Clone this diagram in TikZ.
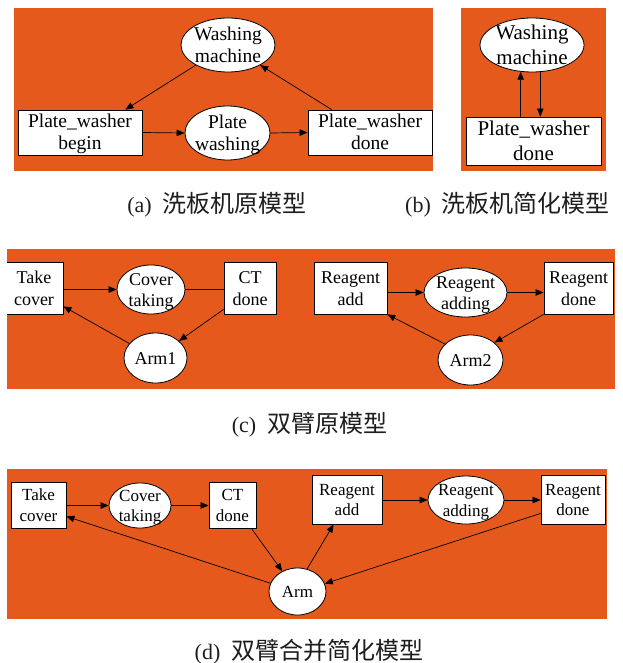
\documentclass[tikz,border=0pt]{standalone}
\usepackage{fontspec}
\setmainfont{Liberation Serif}
\newfontfamily\cjk{Noto Sans CJK SC}
\usetikzlibrary{shapes.geometric,arrows.meta}
\definecolor{bgorange}{RGB}{229,89,29}
\definecolor{captxt}{RGB}{30,30,30}
\newcommand{\tx}[1]{\makebox[0pt]{\smash{\raisebox{\dimexpr-0.25em-2pt\relax}{\begin{tabular}{@{}c@{}}#1\end{tabular}}}}}
\tikzset{
  boxn/.style={rectangle, draw=black, fill=white, line width=0.8pt, inner sep=0pt},
  elln/.style={ellipse, draw=black, fill=white, line width=0.8pt, inner sep=0pt},
  arr/.style={-{Triangle[length=8pt,width=6.5pt]}, line width=0.7pt, draw=black},
  plainline/.style={line width=0.7pt, draw=black},
  panel/.style={fill=bgorange, draw=none},
  fa/.style={font=\fontsize{19.5}{22}\selectfont},
  fb/.style={font=\fontsize{21}{25}\selectfont},
  fc/.style={font=\fontsize{18}{21.5}\selectfont},
  fd/.style={font=\fontsize{17}{20.5}\selectfont},
  captext/.style={font=\fontsize{22}{26}\selectfont, inner sep=0pt, anchor=base, text=captxt},
  sz/.style 2 args={minimum width=#1pt, minimum height=#2pt},
}
\newcommand{\cjkcap}[1]{{\cjk\fontsize{24}{26}\selectfont #1}}
\begin{document}
\begin{tikzpicture}[x=1pt,y=-1pt]
\fill[white] (0,0) rectangle (622,663);
\useasboundingbox (0,0) rectangle (622,663);

% ---------- panel (a)
\fill[panel] (14,8) rectangle (433,171);
\node[boxn, fa, sz={124}{45}] (pwb) at (80,132.5) {\tx{Plate\_washer\\begin}};
\node[elln, fa, sz={85}{54}] (pwg) at (227.5,133) {\tx{Plate\\washing}};
\node[boxn, fa, sz={124}{45}] (pwd) at (370,132.5) {\tx{Plate\_washer\\done}};
\node[elln, fa, sz={94}{54}] (wma) at (228,45) {\tx{Washing\\machine}};
\draw[arr] (wma.212) -- ([xshift=-17pt]pwb.north east);
\draw[arr] (pwb.east) -- (pwg.west);
\draw[arr] (pwg.east) -- (pwd.west);
\draw[arr] ([xshift=24pt]pwd.north west) -- (wma.328);

% ---------- panel (b)
\fill[panel] (461,8) rectangle (606,171);
\node[elln, fb, sz={104}{54}] (wmb) at (532,45) {\tx{Washing\\machine}};
\node[boxn, fb, sz={135}{48}] (pwdb) at (533.5,141) {\tx{Plate\_washer\\done}};
\draw[arr] (wmb.247 |- pwdb.north) -- (wmb.247);
\draw[arr] (wmb.287) -- (wmb.287 |- pwdb.north);

\node[captext] (capa) at (217,212.5) {(a)\hspace{0.5em}\cjkcap{洗板机原模型}};
\node[captext] (capb) at (507.5,212.5) {(b)\hspace{0.5em}\cjkcap{洗板机简化模型}};

% ---------- panel (c)
\fill[panel] (7,249) rectangle (615,389);
\begin{scope}
\clip (7,249) rectangle (615,389);
\node[boxn, fc, sz={58}{52}] (tc) at (34,288) {\tx{Take\\cover}};
\end{scope}
\node[elln, fc, sz={68}{49}] (ctk) at (151,289.5) {\tx{Cover\\taking}};
\node[boxn, fc, sz={52}{52}] (ctd) at (250,288) {\tx{CT\\done}};
\node[elln, fc, sz={63}{50}] (arm1) at (155.5,358) {\tx{Arm1}};
\node[boxn, fc, sz={73}{52}] (ra) at (350.5,288) {\tx{Reagent\\add}};
\node[elln, fc, sz={83}{49}] (rag) at (465.5,292.5) {\tx{Reagent\\adding}};
\node[boxn, fc, sz={69}{52}] (rd) at (578.5,288) {\tx{Reagent\\done}};
\node[elln, fc, sz={65}{50}] (arm2) at (470.5,360) {\tx{Arm2}};
\draw[arr] (tc.east |- ctk.center) -- (ctk.west);
\draw[plainline] (ctk.east) -- (ctk.east -| ctd.west);
\draw[arr] ([yshift=5pt]ctd.south west) -- (arm1.36);
\draw[arr] (arm1.151) -- ([yshift=8pt]tc.south east);
\draw[arr] (ra.east |- rag.center) -- (rag.west);
\draw[arr] (rag.east) -- (rag.east -| rd.west);
\draw[arr] (rd.south west) -- (arm2.36);
\draw[arr] (arm2.148) -- (ra.south east);

\node[captext] (capc) at (309.5,432.5) {(c)\hspace{0.5em}\cjkcap{双臂原模型}};

% ---------- panel (d)
\fill[panel] (7,469) rectangle (607,619);
\node[boxn, fd, sz={55}{46}] (tcd) at (38.5,505) {\tx{Take\\cover}};
\node[elln, fd, sz={62}{45}] (ctkd) at (140,505.5) {\tx{Cover\\taking}};
\node[boxn, fd, sz={47}{46}] (ctdd) at (232.5,505) {\tx{CT\\done}};
\node[elln, fd, sz={57}{47}] (arm) at (297.5,591.5) {\tx{Arm}};
\node[boxn, fd, sz={70}{49}] (rad) at (347,499.5) {\tx{Reagent\\add}};
\node[elln, fd, sz={76}{48}] (ragd) at (466,500) {\tx{Reagent\\adding}};
\node[boxn, fd, sz={64}{49}] (rdd) at (573,499.5) {\tx{Reagent\\done}};
\draw[arr] (tcd.east |- ctkd.center) -- (ctkd.west);
\draw[arr] (ctkd.east) -- (ctkd.east -| ctdd.west);
\draw[arr] ([xshift=-5pt]ctdd.south east) -- (arm.127);
\draw[arr] (arm.67) -- ([xshift=22pt]rad.south west);
\draw[arr] (rad.east |- ragd.center) -- (ragd.west);
\draw[arr] (ragd.east) -- (ragd.east -| rdd.west);
\draw[arr] ([yshift=11pt]rdd.south west) -- (arm.16);
\draw[arr] (arm.163) -- ([yshift=12pt]tcd.south east);

\node[captext] (capd) at (309,659.5) {(d)\hspace{0.5em}\cjkcap{双臂合并简化模型}};
\end{tikzpicture}
\end{document}
